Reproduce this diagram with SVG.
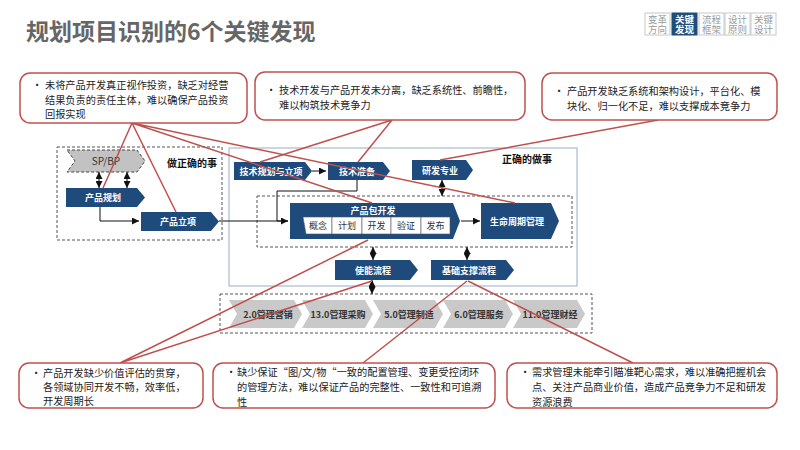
<svg xmlns="http://www.w3.org/2000/svg" width="800" height="450" viewBox="0 0 800 450">
<defs>
<style>
text{font-family:"Noto Sans CJK SC","Noto Sans",sans-serif}
.title{font-size:23px;font-weight:bold;fill:#666}
.nav{fill:#fff;stroke:#c8c8c8;stroke-width:1}
.navt{font-size:9.5px;fill:#9a9a9a;text-anchor:middle}
.navact{fill:#1f4e79;stroke:#1f4e79}
.navat{font-size:9.5px;fill:#fff;font-weight:bold;text-anchor:middle}
.call{fill:#fff;stroke:#c0504d;stroke-width:1.5}
.ct{font-size:10.2px;fill:#222}
.blue{fill:#1f4a7c}
.bt{font-size:9px;fill:#fff;font-weight:bold;text-anchor:middle}
.lab{font-size:10px;fill:#111;font-weight:bold}
.dash{fill:none;stroke:#555;stroke-width:1;stroke-dasharray:3,2}
.frame{fill:#fff;stroke:#9aaec8;stroke-width:1}
.gray{fill:#c9c9c9}
.gt{font-size:9px;fill:#333;font-weight:bold;text-anchor:middle}
.sub{fill:#fff;stroke:#555;stroke-width:0.6}
.st{font-size:9px;fill:#333;text-anchor:middle}
.conn{fill:none;stroke:#111;stroke-width:1}
.red{stroke:#c0504d;stroke-width:1.5;fill:none}
</style>
<marker id="ah" viewBox="0 0 10 10" refX="10" refY="5" markerWidth="7" markerHeight="7" markerUnits="userSpaceOnUse" orient="auto-start-reverse">
<path d="M0,0L10,5L0,10z" fill="#111"/>
</marker>
</defs>
<rect width="800" height="450" fill="#fff"/>
<text class="title" x="26" y="40">规划项目识别的6个关键发现</text>

<g id="nav">
<rect class="nav" x="645" y="13" width="25" height="22"/>
<text class="navt" x="657.5" y="22.5">变革</text><text class="navt" x="657.5" y="33">方向</text>
<rect class="nav navact" x="672" y="13" width="25" height="22"/>
<text class="navat" x="684.5" y="22.5">关键</text><text class="navat" x="684.5" y="33">发现</text>
<rect class="nav" x="699" y="13" width="25" height="22"/>
<text class="navt" x="711.5" y="22.5">流程</text><text class="navt" x="711.5" y="33">框架</text>
<rect class="nav" x="725" y="13" width="25" height="22"/>
<text class="navt" x="737.5" y="22.5">设计</text><text class="navt" x="737.5" y="33">原则</text>
<rect class="nav" x="751" y="13" width="25" height="22"/>
<text class="navt" x="763.5" y="22.5">关键</text><text class="navt" x="763.5" y="33">设计</text>
</g>

<g id="frames">
<rect class="frame" x="229" y="148" width="348" height="138"/>
<rect class="dash" x="57" y="147" width="165" height="93"/>
<text class="lab" x="167" y="167">做正确的事</text>
<text class="lab" x="502" y="163">正确的做事</text>
<rect class="dash" x="257" y="196" width="315" height="51"/>
<rect class="dash" x="220" y="294" width="372" height="39"/>
</g>

<g id="spbp">
<polygon points="67,150 137,150 145,161 137,172 67,172 75,161" fill="#c2c2c2" stroke="#444" stroke-width="1" stroke-dasharray="3,2"/>
<text x="106" y="165" font-size="10" fill="#333" text-anchor="middle">SP/BP</text>
</g>
<g id="cpgh">
<polygon class="blue" points="66,188 137,188 145,197.5 137,207 66,207"/>
<text class="bt" x="103" y="201">产品规划</text>
</g>
<g id="cplx">
<polygon class="blue" points="141,212 211,212 219,221.5 211,231 141,231"/>
<text class="bt" x="178" y="225">产品立项</text>
</g>
<g id="jsgh">
<polygon class="blue" points="234,162 305,162 312,171 305,180 234,180"/>
<text class="bt" x="271" y="174.5">技术规划与立项</text>
</g>
<g id="jszb">
<polygon class="blue" points="328,162 383,162 390,171 383,180 328,180"/>
<text class="bt" x="357" y="174.5">技术准备</text>
</g>
<g id="yfzy">
<polygon class="blue" points="412,160 466,160 473,170 466,180 412,180"/>
<text class="bt" x="440" y="173.5">研发专业</text>
</g>
<g id="cpbkf">
<polygon class="blue" points="290,203 453,203 460,221 453,239 290,239"/>
<text class="bt" x="373" y="214">产品包开发</text>
<polygon class="sub" points="303,217 332,217 332,234 306,234"/>
<rect class="sub" x="332" y="217" width="30" height="17"/>
<rect class="sub" x="362" y="217" width="29" height="17"/>
<rect class="sub" x="391" y="217" width="30" height="17"/>
<rect class="sub" x="421" y="217" width="29" height="17"/>
<text class="st" x="318" y="229">概念</text>
<text class="st" x="347" y="229">计划</text>
<text class="st" x="376.5" y="229">开发</text>
<text class="st" x="406" y="229">验证</text>
<text class="st" x="435.5" y="229">发布</text>
</g>
<g id="smzq">
<polygon class="blue" points="481,203 551,203 559,221 551,239 481,239"/>
<text class="bt" x="517" y="224.5">生命周期管理</text>
</g>
<g id="snlc">
<polygon class="blue" points="335,260 410,260 418,270 410,280 335,280"/>
<text class="bt" x="373" y="273.5">使能流程</text>
</g>
<g id="jczc">
<polygon class="blue" points="431,260 506,260 514,270 506,280 431,280"/>
<text class="bt" x="469" y="273.5">基础支撑流程</text>
</g>

<g id="bar">
<polygon class="gray" points="229,300 294,300 302,314 294,328 229,328 237,314"/>
<polygon class="gray" points="302,300 365,300 373,314 365,328 302,328 310,314"/>
<polygon class="gray" points="373,300 435,300 443,314 435,328 373,328 381,314"/>
<polygon class="gray" points="443,300 505,300 513,314 505,328 443,328 451,314"/>
<polygon class="gray" points="513,300 577,300 585,314 577,328 513,328 521,314"/>
<text class="gt" x="268" y="317.5">2.0管理营销</text>
<text class="gt" x="338" y="317.5">13.0管理采购</text>
<text class="gt" x="409" y="317.5">5.0管理制造</text>
<text class="gt" x="479" y="317.5">6.0管理服务</text>
<text class="gt" x="550" y="317.5">11.0管理财经</text>
</g>

<g id="connectors">
<path class="conn" d="M100,207V221H139" marker-end="url(#ah)"/>
<path class="conn" d="M219,221H288" marker-end="url(#ah)"/>
<path class="conn" d="M357,180V191H277V221H288"/>
<path class="conn" d="M312,171H326" marker-end="url(#ah)"/>
<path class="conn" d="M461,221H480" marker-end="url(#ah)"/>
<path class="conn" d="M99,172V188" marker-start="url(#ah)" marker-end="url(#ah)"/>
<path class="conn" d="M127,172V188" marker-start="url(#ah)" marker-end="url(#ah)"/>
<path class="conn" d="M442,180V196" marker-start="url(#ah)" marker-end="url(#ah)"/>
<path class="conn" d="M373,247V260" marker-start="url(#ah)" marker-end="url(#ah)"/>
<path class="conn" d="M467,247V260" marker-start="url(#ah)" marker-end="url(#ah)"/>
<path class="conn" d="M372,280V294" marker-start="url(#ah)" marker-end="url(#ah)"/>
</g>

<g id="callout-lines">
<path class="red" d="M132,123L103,188M132,123L176,212M132,123L372,203M132,123L515,203"/>
<path class="red" d="M392,120L260,162M392,120L358,162"/>
<path class="red" d="M658,120L440,160"/>
<path class="red" d="M120,363L368,240M120,363L372,281"/>
<path class="red" d="M363,363L467,281"/>
<path class="red" d="M633,363L468,281"/>
</g>

<g id="c1">
<rect class="call" x="20" y="73" width="227" height="50" rx="10"/>
<text class="ct" x="32" y="89">•</text>
<text class="ct" x="45" y="89">未将产品开发真正视作投资，缺乏对经营</text>
<text class="ct" x="45" y="103.5">结果负责的责任主体，难以确保产品投资</text>
<text class="ct" x="45" y="118">回报实现</text>
</g>
<g id="c2">
<rect class="call" x="255" y="72" width="270" height="48" rx="10"/>
<text class="ct" x="266" y="94">•</text>
<text class="ct" x="279" y="94">技术开发与产品开发未分离，缺乏系统性、前瞻性，</text>
<text class="ct" x="279" y="108.5">难以构筑技术竞争力</text>
</g>
<g id="c3">
<rect class="call" x="542" y="73" width="235" height="47" rx="10"/>
<text class="ct" x="554" y="95">•</text>
<text class="ct" x="567" y="95">产品开发缺乏系统和架构设计，平台化、模</text>
<text class="ct" x="567" y="110">块化、归一化不足，难以支撑成本竞争力</text>
</g>
<g id="c4">
<rect class="call" x="19" y="363" width="184" height="45" rx="10"/>
<text class="ct" x="31" y="377">•</text>
<text class="ct" x="43" y="377">产品开发缺少价值评估的贯穿，</text>
<text class="ct" x="43" y="391">各领域协同开发不畅，效率低，</text>
<text class="ct" x="43" y="405">开发周期长</text>
</g>
<g id="c5">
<rect class="call" x="213" y="363" width="282" height="45" rx="10"/>
<text class="ct" x="226" y="376">•</text>
<text class="ct" x="237" y="376">缺少保证“图/文/物“一致的配置管理、变更受控闭环</text>
<text class="ct" x="237" y="391">的管理方法，难以保证产品的完整性、一致性和可追溯</text>
<text class="ct" x="237" y="406">性</text>
</g>
<g id="c6">
<rect class="call" x="507" y="363" width="270" height="45" rx="10"/>
<text class="ct" x="520" y="376">•</text>
<text class="ct" x="532" y="376">需求管理未能牵引瞄准靶心需求，难以准确把握机会</text>
<text class="ct" x="532" y="391">点、关注产品商业价值，造成产品竞争力不足和研发</text>
<text class="ct" x="532" y="406">资源浪费</text>
</g>
</svg>
